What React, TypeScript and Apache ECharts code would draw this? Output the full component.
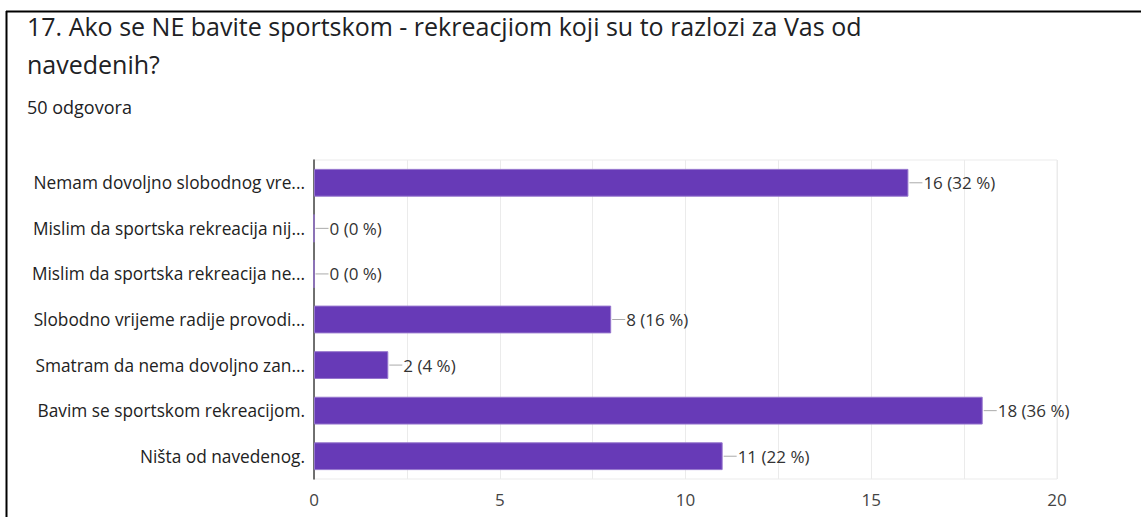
import React, { useEffect, useRef } from "react";
import * as echarts from "echarts";

const categories = [
  "Nemam dovoljno slobodnog vre...",
  "Mislim da sportska rekreacija nij...",
  "Mislim da sportska rekreacija ne...",
  "Slobodno vrijeme radije provodi...",
  "Smatram da nema dovoljno zan...",
  "Bavim se sportskom rekreacijom.",
  "Ništa od navedenog.",
];
const values = [16, 0, 0, 8, 2, 18, 11];
const percents = [32, 0, 0, 16, 4, 36, 22];
const titleLines = [
  "17. Ako se NE bavite sportskom - rekreacjiom koji su to razlozi za Vas od",
  "navedenih?",
];
const subtitle = "50 odgovora";
const FONT = "Open Sans";

export default function App() {
  const ref = useRef<HTMLDivElement>(null);
  useEffect(() => {
    document.body.style.margin = "0";
    const chart = echarts.init(ref.current!, null, { renderer: "svg" });
    chart.setOption({
      animation: false,
      backgroundColor: "#fff",
      textStyle: { fontFamily: FONT },
      graphic: [
        { type: "line", shape: { x1: 6, y1: 11.5, x2: 1141, y2: 11.5 }, style: { stroke: "#000", lineWidth: 2 } },
        { type: "line", shape: { x1: 6.5, y1: 11, x2: 6.5, y2: 517 }, style: { stroke: "#000", lineWidth: 2 } },
        { type: "text", left: 27, top: 13, style: { text: titleLines[0], font: `25px '${FONT}'`, fill: "#202124" } },
        { type: "text", left: 27, top: 51, style: { text: titleLines[1], font: `25px '${FONT}'`, fill: "#202124" } },
        { type: "text", left: 27, top: 98, style: { text: subtitle, font: `18px '${FONT}'`, fill: "#202124" } },
      ],
      grid: {
        left: 314, right: 84, top: 160, bottom: 38,
        show: true, borderColor: "#ebebeb", borderWidth: 1,
      },
      xAxis: {
        type: "value", min: 0, max: 20, interval: 2.5,
        axisLine: { show: false }, axisTick: { show: false },
        splitLine: { lineStyle: { color: "#ebebeb" } },
        axisLabel: {
          color: "#444", fontSize: 17, margin: 12,
          formatter: (v: number) => (v % 5 === 0 ? String(v) : ""),
        },
      },
      yAxis: {
        type: "category", data: categories, inverse: true,
        axisLine: { show: true, lineStyle: { color: "#444", width: 1.5 } },
        axisTick: { show: false },
        axisLabel: { color: "#222", fontSize: 17.3, margin: 9 },
      },
      series: [
        {
          type: "bar",
          data: values,
          barWidth: "61%",
          itemStyle: { color: "#673ab7", borderColor: "#9575cd", borderWidth: 1 },
          label: {
            show: true, position: "right", distance: 1,
            formatter: (p: any) => `{l|}{t|${values[p.dataIndex]} (${percents[p.dataIndex]} %)}`,
            rich: {
              l: { width: 13, height: 1, backgroundColor: "#aaa" },
              t: { color: "#333", fontSize: 17, padding: [0, 0, 0, 1] },
            },
          },
        },
      ],
    });
    return () => chart.dispose();
  }, []);
  return <div ref={ref} style={{ width: 1141, height: 517 }} />;
}
